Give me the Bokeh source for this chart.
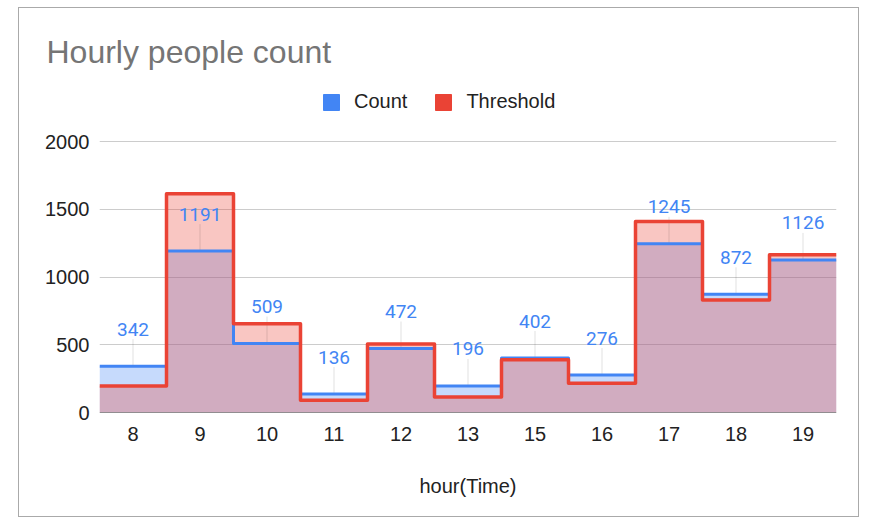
import numpy as np
from bokeh.plotting import figure
from bokeh.models import (Range1d, FixedTicker, Legend, LegendItem, Span, ColumnDataSource)
from bokeh.core.properties import value
from bokeh.embed import file_html
from bokeh.resources import INLINE

# ---- data ----
categories = ["8", "9", "10", "11", "12", "13", "15", "16", "17", "18", "19"]
count = [342, 1191, 509, 136, 472, 196, 402, 276, 1245, 872, 1126]
threshold = [195, 1615, 655, 90, 505, 115, 390, 215, 1410, 830, 1165]
y_ticks = [0, 500, 1000, 1500, 2000]

BLUE = "#4285f4"
RED = "#ea4335"
AX_FONT = "Liberation Sans"

n = len(categories)
edges = list(range(n + 1))
count_ext = count + [count[-1]]
thr_ext = threshold + [threshold[-1]]
centers = [i + 0.5 for i in range(n)]

# layout (pixels): frame top 74, 2000-gridline at 141, baseline at 412
FRAME_TOP, GRID_TOP, FRAME_BOT = 74, 141, 412
Y_MAX = y_ticks[-1] * (FRAME_BOT - FRAME_TOP) / (FRAME_BOT - GRID_TOP)
PX_PER_UNIT = (FRAME_BOT - GRID_TOP) / y_ticks[-1]

p = figure(width=841, height=510, output_backend="svg", toolbar_location=None,
           x_range=Range1d(0, n), y_range=Range1d(0, Y_MAX),
           min_border_left=80, min_border_right=24, min_border_top=66, min_border_bottom=106)
p.margin = (7, 0, 0, 18)
p.styles = {"border": "1px solid #aaaaaa"}
p.outline_line_color = None

# grid / axes
p.xgrid.visible = False
p.ygrid.ticker = FixedTicker(ticks=y_ticks)
p.ygrid.grid_line_color = "#cccccc"

p.yaxis.ticker = FixedTicker(ticks=y_ticks)
p.xaxis.ticker = FixedTicker(ticks=centers)
p.xaxis.major_label_overrides = {c: lab for c, lab in zip(centers, categories)}
for ax in (p.xaxis[0], p.yaxis[0]):
    ax.axis_line_color = None
    ax.major_tick_line_color = None
    ax.minor_tick_line_color = None
    ax.major_tick_in = 0
    ax.major_tick_out = 0
    ax.major_label_text_font = AX_FONT
    ax.major_label_text_font_size = "20px"
    ax.major_label_text_color = "#222222"
p.yaxis.major_label_standoff = 10
p.xaxis.major_label_standoff = 14
p.xaxis.axis_label = "hour(Time)"
p.xaxis.axis_label_text_font = AX_FONT
p.xaxis.axis_label_text_font_size = "20px"
p.xaxis.axis_label_text_font_style = "normal"
p.xaxis.axis_label_text_color = "#222222"
p.xaxis.axis_label_standoff = 31

# areas
p.varea_step(x=edges, y1=[0] * (n + 1), y2=count_ext, step_mode="after",
             fill_color=BLUE, fill_alpha=0.3)
p.varea_step(x=edges, y1=[0] * (n + 1), y2=thr_ext, step_mode="after",
             fill_color=RED, fill_alpha=0.3)

# leader lines from each value up to its label (27 px)
LEAD = 27 / PX_PER_UNIT
p.segment(x0=centers, x1=centers, y0=count, y1=[c + LEAD for c in count],
          line_color="black", line_alpha=0.12, line_width=1)

p.step(x=edges, y=count_ext, mode="after", line_color=BLUE, line_width=3, line_join="round")
p.step(x=edges, y=thr_ext, mode="after", line_color=RED, line_width=3.5, line_join="round")

p.add_layout(Span(location=0, dimension="width", line_color="#333333", line_width=1))

src = ColumnDataSource(dict(x=centers, y=count, t=[str(c) for c in count]))
p.text(x="x", y="y", text="t", source=src, y_offset=-37,
       text_align="center", text_baseline="alphabetic",
       text_font=value("Roboto"), text_font_size="19px", text_color=BLUE)

# legend swatches (nothing drawn in the plot: NaN coordinates)
r_c = p.quad(left=[np.nan], right=[np.nan], top=[np.nan], bottom=[np.nan],
             fill_color=BLUE, line_color=BLUE)
r_t = p.quad(left=[np.nan], right=[np.nan], top=[np.nan], bottom=[np.nan],
             fill_color=RED, line_color=RED)
legend = Legend(items=[LegendItem(label="Count", renderers=[r_c]),
                       LegendItem(label="Threshold", renderers=[r_t])],
                orientation="horizontal", location=(222, 299),
                label_text_font=AX_FONT, label_text_font_size="20px",
                label_text_color="#222222",
                glyph_width=20, glyph_height=20, label_standoff=13, spacing=26,
                border_line_color=None, background_fill_alpha=0,
                padding=0, margin=0)
p.add_layout(legend)

p.title.text = "Hourly people count"
p.title.text_font = AX_FONT
p.title.text_font_size = "32px"
p.title.text_font_style = "normal"
p.title.text_color = "#757575"
p.title.offset = -53

open("out.html", "w").write(file_html(p, INLINE))
